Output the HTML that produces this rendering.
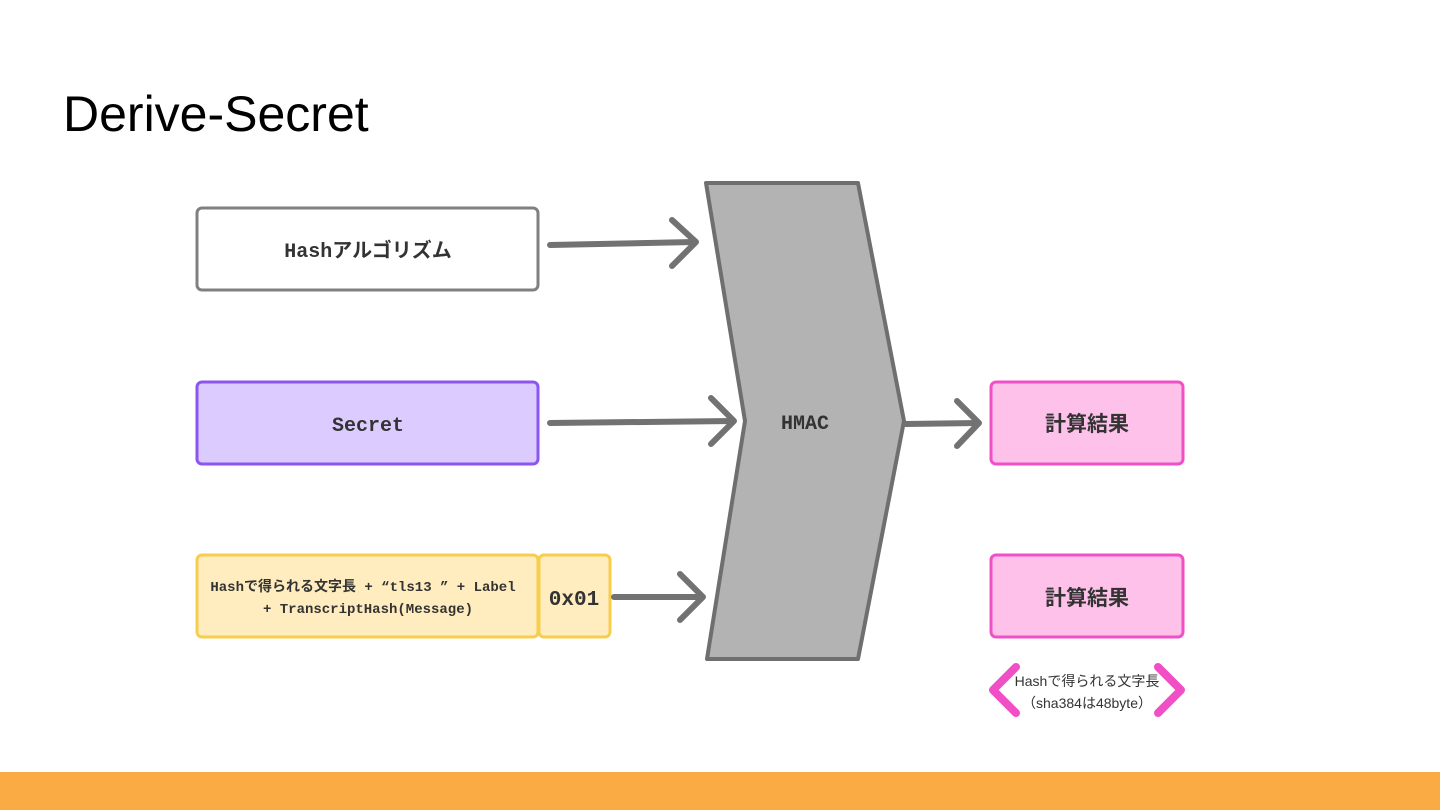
<!DOCTYPE html>
<html><head><meta charset="utf-8"><style>
body{margin:0;width:1440px;height:810px;background:#fff;position:relative;overflow:hidden;font-family:"Liberation Sans","Noto Sans CJK JP",sans-serif}
.t{position:absolute;left:63px;top:85px;font-size:50px;color:#000}
.bar{position:absolute;left:0;top:772px;width:1440px;height:38px;background:#fbab44}
</style></head><body>
<div class="t">Derive-Secret</div>
<svg width="1440" height="810" style="position:absolute;left:0;top:0" font-family="'Liberation Mono','Noto Sans CJK JP',monospace">
<g stroke-width="3">
<rect x="197" y="208" width="341" height="82" rx="5" fill="#fff" stroke="#808080"/>
<rect x="197" y="382" width="341" height="82" rx="5" fill="#dccbff" stroke="#8c55f0"/>
<rect x="197" y="555" width="341" height="82" rx="5" fill="#ffedbf" stroke="#f7cd4e"/>
<rect x="539" y="555" width="71" height="82" rx="5" fill="#ffedbf" stroke="#f7cd4e"/>
<rect x="991" y="382" width="192" height="82" rx="5" fill="#fec1ea" stroke="#f04fc6"/>
<rect x="991" y="555" width="192" height="82" rx="5" fill="#fec1ea" stroke="#f04fc6"/>
</g>
<polygon points="706,183 858,183 904,421 858,659 707,659 745,421" fill="#b3b3b3" stroke="#6f6f6f" stroke-width="4" stroke-linejoin="round"/>
<g stroke="#727272" stroke-width="6" fill="none" stroke-linecap="round" stroke-linejoin="round">
<path d="M550 245 L694 242 M672 220 L696 242 L672 266"/>
<path d="M550 423 L733 421 M711 398 L734 421 L711 444"/>
<path d="M614 597 L702 597 M680 574 L703 597 L680 620"/>
<path d="M906 424 L978 423 M957 401 L979 423 L957 446"/>
</g>
<g stroke="#f04fc6" stroke-width="8" fill="none" stroke-linecap="round" stroke-linejoin="round">
<path d="M1016 667 L993 690 L1016 713"/>
<path d="M1158 667 L1181 690 L1158 713"/>
</g>
<g fill="#333" text-anchor="middle" font-weight="bold">
<text x="368" y="257" font-size="20">Hashアルゴリズム</text>
<text x="368" y="431" font-size="20">Secret</text>
<text x="363" y="591" font-size="14">Hashで得られる文字長 + “tls13 ” + Label</text>
<text x="368" y="613" font-size="14">+ TranscriptHash(Message)</text>
<text x="574" y="605" font-size="21">0x01</text>
<text x="805" y="429" font-size="20">HMAC</text>
<text x="1087" y="431" font-size="21" font-family="'Noto Sans CJK JP',sans-serif">計算結果</text>
<text x="1087" y="605" font-size="21" font-family="'Noto Sans CJK JP',sans-serif">計算結果</text>
</g>
<g fill="#333" text-anchor="middle" font-size="14" font-family="'Liberation Sans','Noto Sans CJK JP',sans-serif">
<text x="1087" y="686">Hashで得られる文字長</text>
<text x="1087" y="708">（sha384は48byte）</text>
</g>
</svg>
<div class="bar"></div>
</body></html>
